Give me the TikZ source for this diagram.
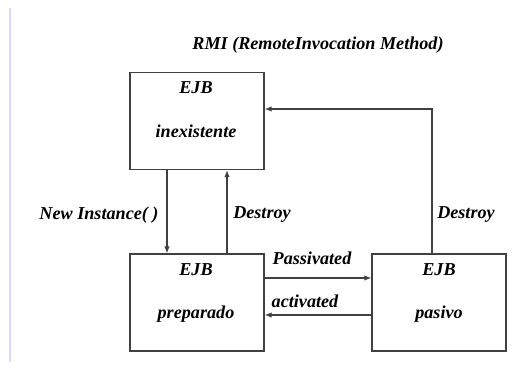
\documentclass[tikz,border=0pt]{standalone}
\usepackage{fontspec}
\setmainfont{Liberation Serif}
\usetikzlibrary{arrows.meta}

\begin{document}
\begin{tikzpicture}[x=0.03cm,y=-0.03cm,
    state/.style={draw=black!75,line width=0.9pt,minimum width=4.02cm,minimum height=2.91cm,inner sep=0pt},
    txt/.style={font=\bfseries\itshape\fontsize{15.5}{18}\selectfont,inner sep=1pt},
    link/.style={draw=black!75,line width=0.9pt,-{Latex[length=6pt,width=4.5pt]}}]
  \useasboundingbox (0,0) rectangle (518,370);
  % Left margin line
  \draw[blue!15,line width=1.2pt] (10,8) -- (10,362);
  % Title
  \node[txt] (title) at (318,45) {RMI (RemoteInvocation Method)};
  % States
  \node[state] (inex) at (197,121) {};
  \node[state] (prep) at (197,302.5) {};
  \node[state] (pasi) at (439,302.5) {};
  \node[txt] (inexa) at (196,88) {EJB};
  \node[txt] (inexb) at (196,131) {inexistente};
  \node[txt] (prepa) at (196,270) {EJB};
  \node[txt] (prepb) at (196,314) {preparado};
  \node[txt] (pasia) at (439,270) {EJB};
  \node[txt] (pasib) at (439,314) {pasivo};
  % Transitions
  \draw[link] ([xshift=-0.9cm]inex.south) -- ([xshift=-0.9cm]prep.north);
  \draw[link] ([xshift=0.9cm]prep.north) -- ([xshift=0.9cm]inex.south);
  \draw[link] ([yshift=0.735cm]prep.east) -- ([yshift=0.735cm]pasi.west);
  \draw[link] ([yshift=-0.375cm]pasi.west) -- ([yshift=-0.375cm]prep.east);
  \draw[link] ([xshift=-0.21cm]pasi.north) |- ([yshift=0.36cm]inex.east);
  % Labels
  \node[txt] (lnew) at (99,215) {New Instance( )};
  \node[txt] (ldes) at (262,215) {Destroy};
  \node[txt] (ldes2) at (466,215) {Destroy};
  \node[txt] (lpas) at (312,258) {Passivated};
  \node[txt] (lact) at (305,301) {activated};
\end{tikzpicture}
\end{document}
